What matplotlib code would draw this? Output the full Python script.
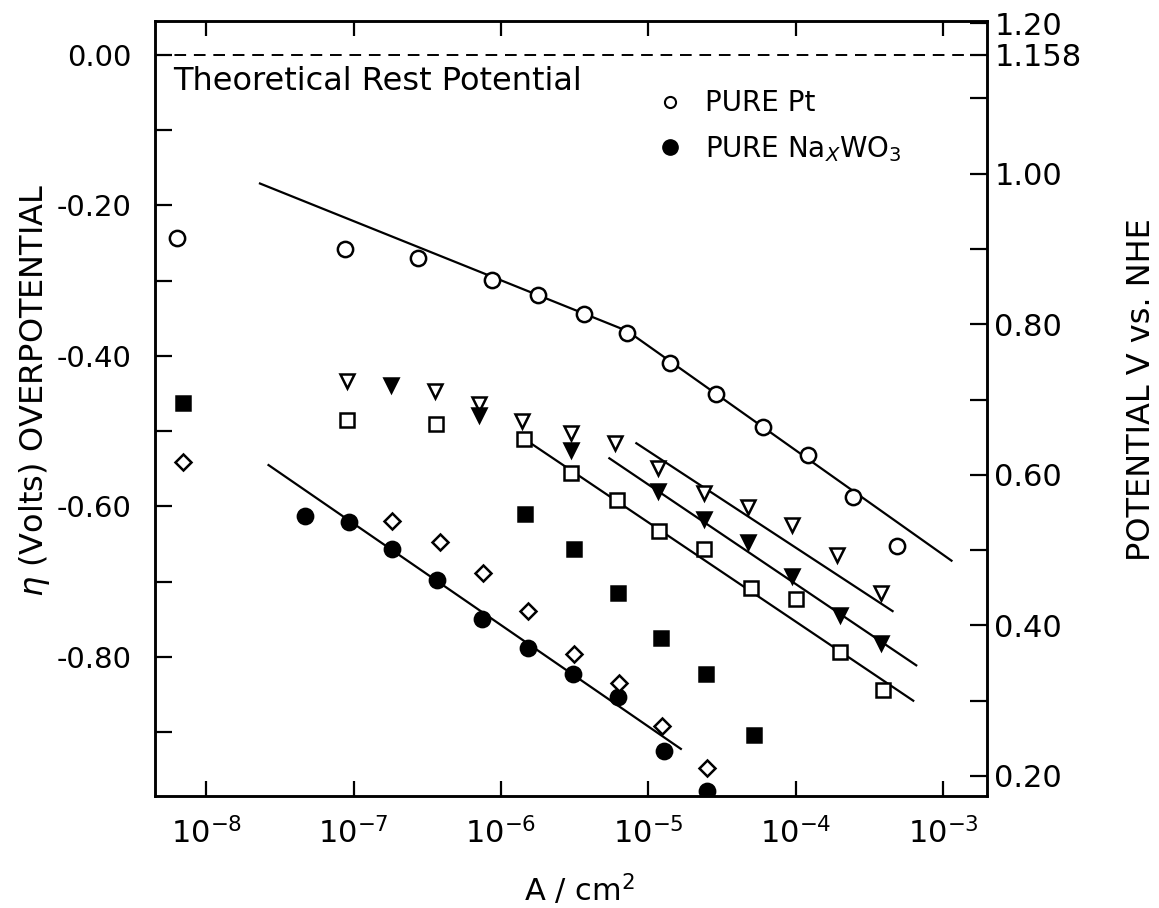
import matplotlib
matplotlib.use("Agg")
import matplotlib.pyplot as plt
from matplotlib.lines import Line2D
from matplotlib.ticker import FixedLocator, NullLocator

# ******************** DATA (current density A/cm2, overpotential V) ********************
pt_open_x = [6.3e-9, 8.7e-8, 2.75e-7, 8.7e-7, 1.79e-6, 3.67e-6, 7.2e-6, 1.41e-5, 2.87e-5, 6.0e-5, 1.21e-4, 2.46e-4, 4.9e-4]
pt_open_y = [-0.244, -0.258, -0.270, -0.299, -0.319, -0.345, -0.369, -0.409, -0.450, -0.495, -0.532, -0.587, -0.652]
pt_fit_x = [2.31e-8, 7.2e-6, 1.14e-3]
pt_fit_y = [-0.171, -0.367, -0.672]

wo3_x = [4.67e-8, 9.3e-8, 1.82e-7, 3.65e-7, 7.4e-7, 1.53e-6, 3.09e-6, 6.25e-6, 1.28e-5, 2.51e-5]
wo3_y = [-0.612, -0.620, -0.657, -0.698, -0.750, -0.788, -0.823, -0.853, -0.925, -0.978]
wo3_fit_x = [2.64e-8, 1.66e-5]
wo3_fit_y = [-0.545, -0.922]

diamond_x = [6.9e-9, 1.82e-7, 3.82e-7, 7.5e-7, 1.53e-6, 3.14e-6, 6.35e-6, 1.24e-5, 2.51e-5]
diamond_y = [-0.541, -0.619, -0.647, -0.688, -0.739, -0.796, -0.835, -0.891, -0.948]

fsq_x = [6.9e-9, 1.46e-6, 3.14e-6, 6.25e-6, 1.22e-5, 2.47e-5, 5.18e-5]
fsq_y = [-0.463, -0.610, -0.656, -0.715, -0.775, -0.822, -0.903]

otri_x = [9.0e-8, 3.54e-7, 7.1e-7, 1.39e-6, 2.99e-6, 5.97e-6, 1.16e-5, 2.39e-5, 4.77e-5, 9.5e-5, 1.91e-4, 3.8e-4]
otri_y = [-0.433, -0.446, -0.464, -0.487, -0.502, -0.516, -0.549, -0.582, -0.601, -0.625, -0.664, -0.715]
otri_fit_x = [8.28e-6, 4.54e-4]
otri_fit_y = [-0.516, -0.739]

ftri_x = [1.80e-7, 7.1e-7, 2.99e-6, 1.16e-5, 2.39e-5, 4.77e-5, 9.5e-5, 2.0e-4, 3.8e-4]
ftri_y = [-0.439, -0.478, -0.525, -0.579, -0.616, -0.647, -0.693, -0.744, -0.782]
ftri_fit_x = [5.43e-6, 6.57e-4]
ftri_fit_y = [-0.536, -0.811]

osq_x = [9.0e-8, 3.6e-7, 1.43e-6, 2.99e-6, 6.15e-6, 1.18e-5, 2.39e-5, 4.94e-5, 1.0e-4, 2.0e-4, 3.93e-4]
osq_y = [-0.485, -0.491, -0.510, -0.556, -0.591, -0.633, -0.656, -0.708, -0.723, -0.793, -0.844]
osq_fit_x = [1.43e-6, 6.27e-4]
osq_fit_y = [-0.510, -0.858]

rest_potential = 1.158
left_ticks = [0.0, -0.2, -0.4, -0.6, -0.8]
left_labels = ['0.00', '-0.20', '-0.40', '-0.60', '-0.80']
left_minor = [-0.1, -0.3, -0.5, -0.7, -0.9]
right_ticks = [1.20, 1.158, 1.00, 0.80, 0.60, 0.40, 0.20]
right_labels = ["1.20", "1.158", "1.00", "0.80", "0.60", "0.40", "0.20"]
right_minor = [1.1, 0.9, 0.7, 0.5, 0.3]
x_ticks = [1e-8, 1e-7, 1e-6, 1e-5, 1e-4, 1e-3]
x_labels = ['$10^{-8}$', '$10^{-7}$', '$10^{-6}$', '$10^{-5}$', '$10^{-4}$', '$10^{-3}$']

# ******************** FIGURE ********************
plt.rcParams['font.family'] = ['DejaVu Sans']
fig = plt.figure(figsize=(11.59, 9.08), dpi=100)
ax = fig.add_axes([0.134, 0.123, 0.718, 0.854])

ylim = (-0.985, 0.045)
ax.set_xscale('log')
ax.set_xlim(4.5e-9, 2.0e-3)
ax.set_ylim(*ylim)

# rest potential
ax.axhline(0.0, color='black', lw=1.4, ls=(0, (6, 4)))

# fit lines
for fx, fy in [(pt_fit_x, pt_fit_y), (wo3_fit_x, wo3_fit_y), (otri_fit_x, otri_fit_y),
               (ftri_fit_x, ftri_fit_y), (osq_fit_x, osq_fit_y)]:
    ax.plot(fx, fy, color='black', lw=1.6, zorder=2)

# data points
mk = dict(ls='none', mec='black', mew=1.8, zorder=3)
ax.plot(pt_open_x, pt_open_y, marker='o', ms=11, mfc='white', **mk)
ax.plot(wo3_x, wo3_y, marker='o', ms=11, mfc='black', **mk)
ax.plot(diamond_x, diamond_y, marker='D', ms=8.5, mfc='white', **mk)
ax.plot(fsq_x, fsq_y, marker='s', ms=9.5, mfc='black', **mk)
ax.plot(otri_x, otri_y, marker='v', ms=9.5, mfc='white', **mk)
ax.plot(ftri_x, ftri_y, marker='v', ms=9.5, mfc='black', **mk)
ax.plot(osq_x, osq_y, marker='s', ms=10, mfc='white', **mk)

# text and legend
ax.text(0.022, 0.922, 'Theoretical Rest Potential', transform=ax.transAxes,
        fontsize=23, va='center', ha='left')
handles = [Line2D([], [], ls='none', marker='o', ms=8, mfc='white', mec='black', mew=1.5),
           Line2D([], [], ls='none', marker='o', ms=11, mfc='black', mec='black')]
ax.legend(handles, ['PURE Pt', 'PURE Na$_X$WO$_3$'], loc='upper left',
          bbox_to_anchor=(0.572, 0.926), frameon=False, fontsize=20,
          handletextpad=0.25, labelspacing=0.6, borderaxespad=0)

# axes styling
for s in ax.spines.values():
    s.set_linewidth(1.8)
ax.xaxis.set_major_locator(FixedLocator(x_ticks))
ax.xaxis.set_minor_locator(NullLocator())
ax.set_xticklabels(x_labels)
ax.yaxis.set_major_locator(FixedLocator(left_ticks))
ax.yaxis.set_minor_locator(FixedLocator(left_minor))
ax.set_yticklabels(left_labels)
ax.tick_params(axis='x', which='both', direction='in', top=True, length=11, width=1.6,
               labelsize=22, pad=15)
ax.tick_params(axis='y', which='both', direction='in', right=False, length=12, width=1.6,
               labelsize=21, pad=17)

ax.set_xlabel('A / cm$^2$', fontsize=22)
ax.xaxis.set_label_coords(0.51, -0.098)
ax.set_ylabel('$\\eta$ (Volts) OVERPOTENTIAL', fontsize=23)
ax.yaxis.set_label_coords(-0.124, 0.524)

# right axis: potential vs NHE
ax2 = ax.twinx()
ax2.set_ylim(ylim[0] + rest_potential, ylim[1] + rest_potential)
ax2.yaxis.set_major_locator(FixedLocator(right_ticks))
ax2.yaxis.set_minor_locator(FixedLocator(right_minor))
ax2.set_yticklabels(right_labels)
ax2.tick_params(axis='y', which='both', direction='in', length=12, width=1.6,
                labelsize=22, pad=5)
for s in ax2.spines.values():
    s.set_linewidth(1.8)
ax2.set_ylabel('POTENTIAL V vs. NHE', fontsize=23)
ax2.yaxis.set_label_coords(1.166, 0.524)

fig.savefig('out.png', dpi=100)
